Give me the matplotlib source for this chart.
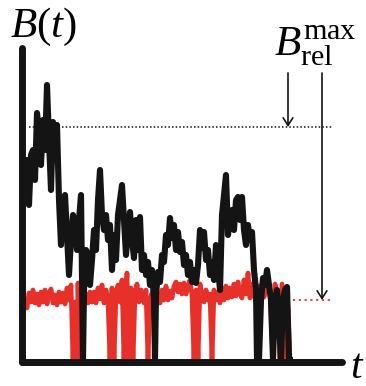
import matplotlib
matplotlib.use("Agg")
import matplotlib.pyplot as plt

# time axis (arbitrary units) and the two traces
t_black = [5, 7, 9, 11, 13, 15, 17, 19, 21, 23, 25, 27, 29, 31, 33, 35, 37, 39, 41, 43,
           45, 47, 49, 51, 53, 55, 57, 59, 61, 63, 64, 66, 68, 70, 72, 74, 76, 78, 80, 82,
           84, 86, 88, 90, 92, 94, 96, 98, 100, 102, 104, 106, 108, 110, 112, 114, 116, 118, 120, 122,
           124, 126, 128, 130, 132, 134, 135, 136, 138, 140, 142, 144, 146, 148, 150, 152, 154, 156, 158, 160,
           162, 164, 166, 168, 170, 172, 174, 176, 178, 180, 182, 184, 186, 188, 190, 192, 194, 196, 198, 200,
           202, 204, 206, 208, 210, 212, 214, 216, 218, 220, 222, 224, 226, 228, 230, 232, 234, 236, 237, 239,
           241, 243, 245, 247, 249, 251, 253, 255, 257, 259, 261, 263, 265, 267, 269, 270]
b_black = [185, 200, 155, 205, 210, 180, 247, 230, 195, 240, 210, 275, 220, 170, 238, 200, 235, 160, 115, 150,
           165, 125, 85, 120, 145, 135, 110, 140, 165, 0, 70, 110, 105, 75, 100, 130, 110, 160, 190, 145,
           130, 145, 120, 135, 90, 125, 100, 145, 160, 175, 140, 105, 130, 148, 120, 102, 140, 110, 143, 90,
           105, 85, 98, 75, 90, 60, 0, 65, 88, 78, 105, 98, 125, 115, 142, 122, 135, 110, 128, 108,
           118, 95, 105, 85, 98, 78, 90, 77, 95, 130, 112, 128, 100, 110, 85, 98, 80, 115, 92, 70,
           145, 165, 185, 125, 145, 150, 130, 160, 163, 140, 163, 130, 115, 135, 120, 128, 90, 70, 0, 0,
           60, 82, 75, 90, 75, 60, 0, 60, 70, 40, 0, 60, 70, 73, 0, 0]

t_red = [5, 7, 9, 11, 13, 15, 17, 19, 21, 23, 25, 27, 29, 31, 33, 35, 37, 39, 41, 43,
         45, 47, 49, 51, 53, 55, 57, 58, 60, 62, 64, 66, 68, 70, 72, 74, 76, 78, 80, 82,
         84, 86, 88, 90, 92, 94, 96, 98, 100, 102, 104, 106, 107, 109, 111, 113, 115, 117, 119, 121,
         124, 126, 128, 130, 132, 134, 136, 138, 140, 142, 144, 146, 148, 150, 152, 154, 156, 158, 160, 162,
         164, 166, 168, 170, 172, 174, 176, 178, 180, 182, 184, 186, 188, 190, 192, 194, 196, 198, 200, 202,
         204, 206, 208, 210, 212, 214, 216, 218, 220, 222, 224, 226, 228, 230, 232, 234, 236, 238, 240, 242,
         244, 246, 248, 250, 253, 255, 257, 260, 262, 265, 267, 270]
b_red = [60, 52, 67, 58, 70, 57, 66, 55, 68, 58, 70, 56, 66, 71, 57, 65, 55, 68, 58, 67,
         56, 72, 60, 75, 0, 58, 0, 77, 0, 53, 62, 66, 57, 68, 58, 68, 57, 72, 61, 75,
         57, 70, 60, 0, 72, 0, 66, 75, 58, 80, 0, 72, 87, 0, 72, 0, 66, 76, 58, 70,
         57, 70, 0, 60, 67, 56, 60, 66, 57, 70, 60, 74, 60, 69, 62, 74, 78, 68, 76, 66,
         77, 66, 74, 80, 65, 0, 70, 0, 76, 63, 58, 70, 60, 66, 0, 70, 60, 68, 57, 72,
         60, 74, 62, 72, 63, 76, 64, 78, 66, 62, 80, 66, 87, 62, 76, 66, 58, 74, 63, 76,
         63, 72, 76, 68, 0, 76, 64, 0, 76, 0, 73, 0]

b_max_level = 233    # dotted reference for the black trace
b_red_level = 60     # dotted reference for the red trace

plt.rcParams["mathtext.fontset"] = "custom"
plt.rcParams["mathtext.rm"] = "Liberation Serif"
plt.rcParams["mathtext.it"] = "Liberation Serif:italic"

W, H = 366, 386
fig = plt.figure(figsize=(W / 100, H / 100), dpi=100)
ax = fig.add_axes([21.5 / W, (H - 361.5) / H, 320 / W, 313.5 / H])
ax.set_xlim(1.5, 321.5)
ax.set_ylim(-1.5, 312)

ax.plot(t_red, b_red, color="#e8302a", lw=3.4, zorder=2, clip_on=False)
ax.plot(t_black, b_black, color="#141414", lw=4.4, zorder=3, clip_on=False)

ax.plot([9, 313], [b_max_level, b_max_level], color="#141414", lw=1.1,
        linestyle=(0, (1.0, 1.4)), clip_on=False)
ax.plot([273, 313], [b_red_level, b_red_level], color="#e8302a", lw=1.3,
        linestyle=(0, (1.2, 2.0)), clip_on=False)

arrow = dict(arrowstyle="->,head_width=0.35,head_length=0.55", color="#141414", lw=1.2,
             shrinkA=0, shrinkB=0)
ax.annotate("", xy=(268, b_max_level), xytext=(268, 287), arrowprops=arrow)
ax.annotate("", xy=(302, b_red_level), xytext=(302, 287), arrowprops=arrow)

for side in ["top", "right"]:
    ax.spines[side].set_visible(False)
for side in ["left", "bottom"]:
    ax.spines[side].set_linewidth(5)
    ax.spines[side].set_color("#141414")
    ax.spines[side].set_capstyle("round")
ax.set_xticks([])
ax.set_yticks([])

fig.text(10 / W, (H - 37) / H, r"$B(t)$", fontsize=31, ha="left", va="baseline")
fig.text(350 / W, (H - 378) / H, r"$t$", fontsize=30, ha="left", va="baseline")
fig.text(274 / W, (H - 57) / H, r"$B_{\mathrm{rel}}^{\mathrm{max}}$", fontsize=31,
         ha="left", va="baseline")

fig.savefig("out.png", dpi=100)
